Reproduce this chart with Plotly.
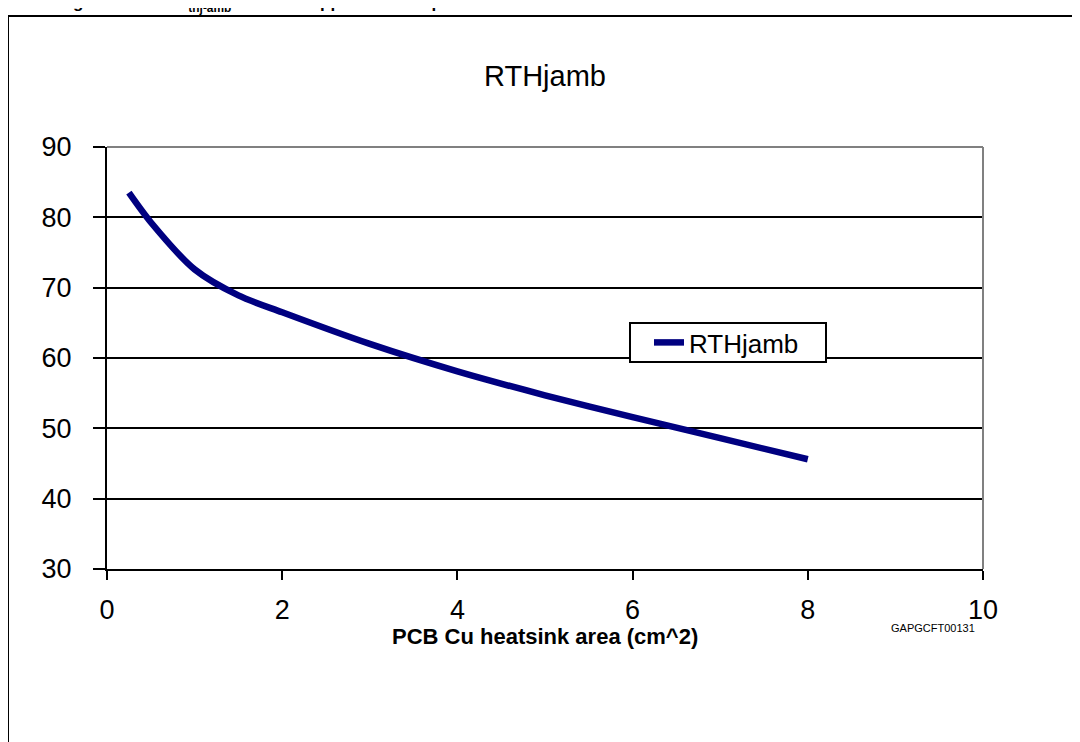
import plotly.graph_objects as go

# Data
area_cm2 = [0.25, 0.5, 1, 1.5, 2, 3, 4, 5, 6, 7, 8]
rth_jamb = [83.5, 79.3, 72.6, 68.9, 66.5, 62.0, 58.1, 54.7, 51.6, 48.6, 45.6]
series_name = "RTHjamb"
chart_title = "RTHjamb"
x_title = "PCB Cu heatsink area (cm^2)"
code_label = "GAPGCFT00131"
caption = "Figure 5.          R<sub>thj-amb</sub> vs PCB copper area in open box free air condition"

# page body has an 8px margin: work in screen pixels, convert to figure pixels
OFF = 8
W, H = 1080, 742
PL, PR, PT, PB = 107, 983, 147, 569  # plot area in screen pixels
L = PL - OFF
T = PT - OFF
R = W - (PR - OFF)
B = H - (PB - OFF)
pw, ph = PR - PL, PB - PT

def px(X):
    return (X - PL) / pw

def py(Y):
    return (PB - Y) / ph

fig = go.Figure()
fig.add_trace(go.Scatter(
    x=area_cm2, y=rth_jamb, mode="lines", name=series_name,
    line=dict(color="#000080", width=6.5, shape="spline", smoothing=0.8),
))

fig.update_layout(
    width=W, height=H,
    margin=dict(l=L, r=R, t=T, b=B),
    paper_bgcolor="white", plot_bgcolor="white",
    font=dict(family="Arial, Liberation Sans", color="black"),
    showlegend=True,
    legend=dict(x=px(649), y=py(342.5), xanchor="left", yanchor="middle",
                borderwidth=0, bgcolor="rgba(0,0,0,0)",
                font=dict(size=26, family="Arial, Liberation Sans", color="black"),
                itemwidth=30, tracegroupgap=0),
    xaxis=dict(range=[0, 10], dtick=2, tick0=0, showgrid=False, zeroline=False,
               showline=True, linecolor="black", linewidth=2,
               ticks="outside", ticklen=9, tickwidth=2, tickcolor="black",
               tickfont=dict(size=27), ticklabelstandoff=7),
    yaxis=dict(range=[30, 90], dtick=10, tick0=30, showgrid=True, gridcolor="black",
               gridwidth=2, zeroline=False,
               showline=True, linecolor="black", linewidth=2,
               ticks="outside", ticklen=12, tickwidth=2, tickcolor="black",
               tickfont=dict(size=27), ticklabelstandoff=16),
    shapes=[
        dict(type="line", xref="paper", yref="paper", x0=0, x1=1, y0=1, y1=1,
             line=dict(color="#808080", width=2), layer="above"),
        dict(type="line", xref="paper", yref="paper", x0=1, x1=1, y0=0, y1=1,
             line=dict(color="#808080", width=2), layer="above"),
        dict(type="rect", xref="paper", yref="paper", x0=px(8), x1=px(1100),
             y0=py(780), y1=py(16), line=dict(color="black", width=2),
             fillcolor="rgba(0,0,0,0)", layer="below"),
        # legend frame
        dict(type="rect", xref="paper", yref="paper", x0=px(630), x1=px(826),
             y0=py(362), y1=py(323), line=dict(color="black", width=2),
             fillcolor="white", layer="above"),
    ],
    annotations=[
        dict(text=chart_title, xref="paper", yref="paper", x=px(545), y=py(76),
             xanchor="center", yanchor="middle", showarrow=False,
             font=dict(size=29, color="black")),
        dict(text="<b>" + x_title + "</b>", xref="paper", yref="paper", x=px(545),
             y=py(636), xanchor="center", yanchor="middle", showarrow=False,
             font=dict(size=22, color="black")),
        dict(text=code_label, xref="paper", yref="paper", x=px(933), y=py(628),
             xanchor="center", yanchor="middle", showarrow=False,
             font=dict(size=11, color="black")),
        dict(text="<b>" + caption + "</b>", xref="paper", yref="paper", x=px(56),
             y=py(4), xanchor="left", yanchor="middle", showarrow=False,
             font=dict(size=17, color="black")),
    ],
)

fig.write_html("out.html")
